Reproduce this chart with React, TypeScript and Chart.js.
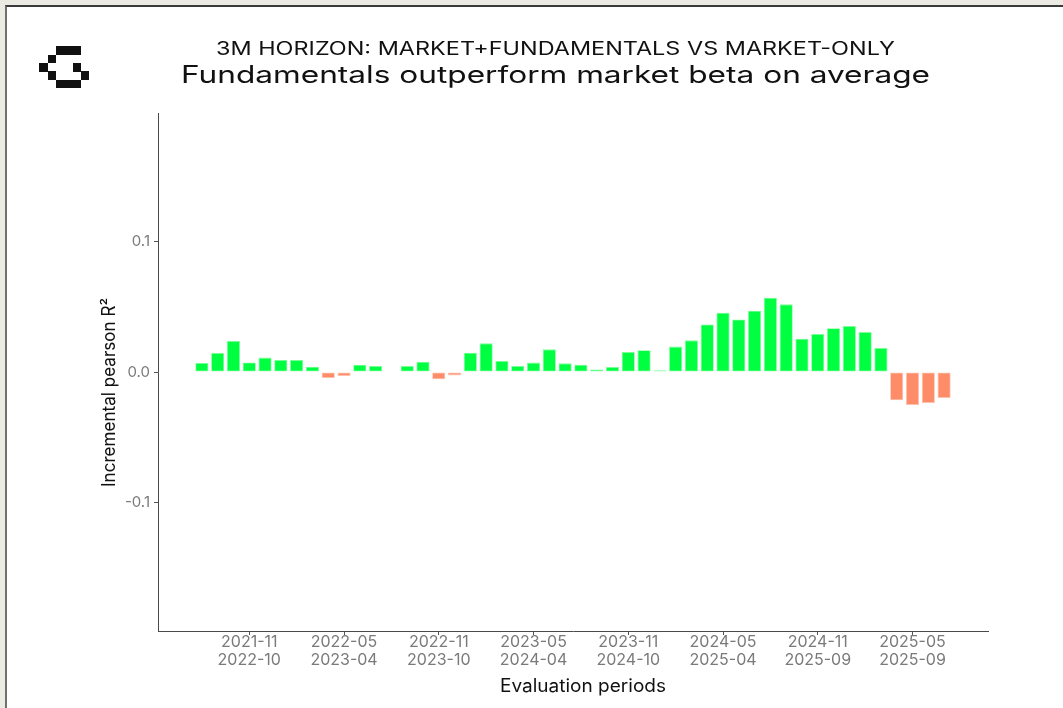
import React, { useEffect, useRef } from "react";
import { Chart, registerables } from "chart.js";

Chart.register(...registerables);

// ---- Data ----
const periodStarts = [
  "2021-08", "2021-09", "2021-10", "2021-11", "2021-12",
  "2022-01", "2022-02", "2022-03", "2022-04", "2022-05", "2022-06",
  "2022-07", "2022-08", "2022-09", "2022-10", "2022-11", "2022-12",
  "2023-01", "2023-02", "2023-03", "2023-04", "2023-05", "2023-06",
  "2023-07", "2023-08", "2023-09", "2023-10", "2023-11", "2023-12",
  "2024-01", "2024-02", "2024-03", "2024-04", "2024-05", "2024-06",
  "2024-07", "2024-08", "2024-09", "2024-10", "2024-11", "2024-12",
  "2025-01", "2025-02", "2025-03", "2025-04", "2025-05", "2025-06",
  "2025-07",
];

const periodEnds = [
  "2022-07", "2022-08", "2022-09", "2022-10", "2022-11", "2022-12",
  "2023-01", "2023-02", "2023-03", "2023-04", "2023-05", "2023-06",
  "2023-07", "2023-08", "2023-09", "2023-10", "2023-11", "2023-12",
  "2024-01", "2024-02", "2024-03", "2024-04", "2024-05", "2024-06",
  "2024-07", "2024-08", "2024-09", "2024-10", "2024-11", "2024-12",
  "2025-01", "2025-02", "2025-03", "2025-04", "2025-05", "2025-06",
  "2025-07", "2025-08", "2025-09", "2025-09", "2025-09", "2025-09",
  "2025-09", "2025-09", "2025-09", "2025-09", "2025-09", "2025-09",
];

const incrementalR2 = [
  0.0069, 0.0145, 0.0237, 0.0073, 0.0110, 0.0092, 0.0092, 0.0040,
  -0.0046, -0.0030, 0.0056, 0.0046, -0.0003, 0.0046, 0.0079, -0.0055,
  -0.0026, 0.0148, 0.0219, 0.0084, 0.0046, 0.0072, 0.0173, 0.0066,
  0.0056, 0.0020, 0.0038, 0.0153, 0.0166, 0.0013, 0.0194, 0.0242,
  0.0364, 0.0453, 0.0402, 0.0469, 0.0568, 0.0517, 0.0255, 0.0290,
  0.0334, 0.0351, 0.0305, 0.0183, -0.0216, -0.0252, -0.0237, -0.0198,
];

const xTickIndices = [3, 9, 15, 21, 27, 33, 39, 45];
const yTickValues = [-0.1, 0, 0.1];
const yLimits = [-0.198, 0.198];
const xLimits = [-2.78, 49.78];

const subtitleText = "3M HORIZON: MARKET+FUNDAMENTALS VS MARKET-ONLY";
const titleText = "Fundamentals outperform market beta on average";
const xTitleText = "Evaluation periods";
const yTitleText = "Incremental pearson R\u00B2";

// ---- Styles ----
const FONT = "Inter, 'Noto Sans', 'DejaVu Sans', sans-serif";
const GREEN = "#00FF41";
const GREEN_EDGE = "#7DFF9A";
const SALMON = "#FF8C69";
const SALMON_EDGE = "#FFC2AE";

const logoPattern = [
  "..###.",
  ".#....",
  "#...#.",
  ".#...#",
  "..###.",
];

function drawFitted(
  ctx: CanvasRenderingContext2D,
  text: string,
  cx: number,
  baseline: number,
  font: string,
  color: string,
  targetWidth: number
) {
  ctx.save();
  ctx.font = font;
  ctx.fillStyle = color;
  ctx.textBaseline = "alphabetic";
  ctx.textAlign = "center";
  const w = ctx.measureText(text).width;
  const sx = targetWidth / w;
  ctx.translate(cx, baseline);
  ctx.scale(sx, 1);
  ctx.fillText(text, 0, 0);
  ctx.restore();
}

const textPlugin = {
  id: "customText",
  afterDraw(chart: any) {
    const ctx: CanvasRenderingContext2D = chart.ctx;
    drawFitted(ctx, subtitleText, 555.5, 54.5, `400 18px ${FONT}`, "#111111", 679);
    drawFitted(ctx, titleText, 555.5, 82.5, `400 24px ${FONT}`, "#111111", 749);
    drawFitted(ctx, xTitleText, 583, 692, `400 18px ${FONT}`, "#111111", 166);
    ctx.save();
    ctx.translate(115, 392.5);
    ctx.rotate(-Math.PI / 2);
    drawFitted(ctx, yTitleText, 0, 0, `400 18px ${FONT}`, "#111111", 189);
    ctx.restore();
  },
};

function Logo() {
  const unit = 8.3;
  const ox = 39.3;
  const oy = 46.3;
  const cells: React.ReactElement[] = [];
  logoPattern.forEach((row, r) => {
    row.split("").forEach((c, col) => {
      if (c === "#") {
        cells.push(
          <div
            key={`${r}-${col}`}
            style={{
              position: "absolute",
              left: ox + col * unit,
              top: oy + r * unit,
              width: unit + 0.4,
              height: unit + 0.4,
              background: "#111111",
            }}
          />
        );
      }
    });
  });
  return <>{cells}</>;
}

export default function App() {
  const canvasRef = useRef<HTMLCanvasElement | null>(null);

  useEffect(() => {
    const canvas = canvasRef.current;
    if (!canvas) return;
    const chart = new Chart(canvas, {
      type: "bar",
      data: {
        datasets: [
          {
            data: incrementalR2.map((v, i) => ({ x: i, y: v })),
            backgroundColor: incrementalR2.map((v) => (v >= 0 ? GREEN : SALMON)),
            borderColor: incrementalR2.map((v) => (v >= 0 ? GREEN_EDGE : SALMON_EDGE)),
            borderWidth: 0.8,
            borderSkipped: false,
            barPercentage: 0.83,
            categoryPercentage: 1,
          } as any,
        ],
      },
      options: {
        responsive: false,
        maintainAspectRatio: false,
        animation: false,
        devicePixelRatio: 1,
        layout: { padding: { left: 0, top: 113, right: 75, bottom: 0 } },
        plugins: {
          legend: { display: false },
          tooltip: { enabled: false },
          title: { display: false },
        },
        scales: {
          x: {
            type: "linear",
            min: xLimits[0],
            max: xLimits[1],
            offset: false,
            afterBuildTicks: (scale: any) => {
              scale.ticks = xTickIndices.map((v) => ({ value: v }));
            },
            afterFit: (scale: any) => {
              scale.height = 77;
            },
            grid: {
              display: true,
              offset: false,
              drawOnChartArea: false,
              drawTicks: true,
              tickLength: 4,
              color: "#555555",
            },
            border: { display: true, color: "#4a4a4a", width: 1 },
            ticks: {
              autoSkip: false,
              maxRotation: 0,
              minRotation: 0,
              padding: -2,
              color: "#7a7a7a",
              font: { family: FONT, size: 16, lineHeight: 1.15 },
              callback: (v: any) => {
                const i = Math.round(Number(v));
                return [periodStarts[i], periodEnds[i]];
              },
            },
          },
          y: {
            type: "linear",
            min: yLimits[0],
            max: yLimits[1],
            afterBuildTicks: (scale: any) => {
              scale.ticks = yTickValues.map((v) => ({ value: v }));
            },
            afterFit: (scale: any) => {
              scale.width = 158;
            },
            grid: {
              display: true,
              drawOnChartArea: false,
              drawTicks: true,
              tickLength: 4,
              color: "#555555",
            },
            border: { display: true, color: "#4a4a4a", width: 1 },
            ticks: {
              padding: 4,
              color: "#7a7a7a",
              font: { family: FONT, size: 15 },
              callback: (v: any) => Number(v).toFixed(1),
            },
          },
        },
      },
      plugins: [textPlugin],
    });
    return () => chart.destroy();
  }, []);

  return (
    <div
      style={{
        position: "fixed",
        left: 0,
        top: 0,
        width: 1063,
        height: 708,
        background: "#EBEBE4",
        overflow: "hidden",
      }}
    >
      <div
        style={{
          position: "absolute",
          left: 5,
          top: 5,
          width: 1080,
          height: 720,
          background: "#ffffff",
          borderTop: "2px solid #3a3a3a",
          borderLeft: "2px solid #707070",
        }}
      />
      <Logo />
      <canvas
        ref={canvasRef}
        width={1063}
        height={708}
        style={{ position: "absolute", left: 0, top: 0, display: "block" }}
      />
    </div>
  );
}
